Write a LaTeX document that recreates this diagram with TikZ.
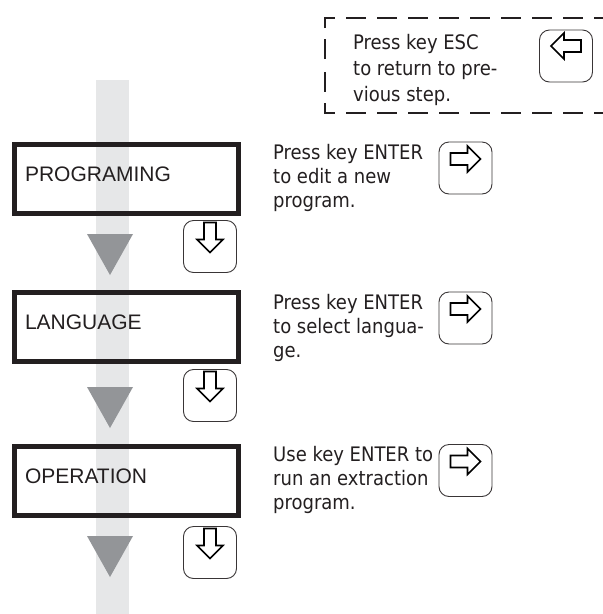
\documentclass[tikz,border=0pt]{standalone}
\usepackage{fontspec}
\setmainfont{Liberation Sans}
\newfontfamily\notefont{DejaVu Sans Condensed}
\definecolor{MenuInk}{HTML}{231F20}
\definecolor{MenuBand}{HTML}{E6E7E8}
\definecolor{MenuTri}{HTML}{939598}
\tikzset{menubox/.style={draw=MenuInk,line width=5pt,minimum width=224pt,minimum height=69pt,
text width=203pt,inner xsep=10.5pt,align=left,text height=15pt,text depth=10pt,
text=MenuInk,font=\fontsize{21}{25}\selectfont},
keybtn/.style={draw=MenuInk!90,line width=0.9pt,rounded corners=10pt,minimum width=53pt,
minimum height=52pt,inner sep=0pt},
note/.style={anchor=north west,inner sep=0pt,align=left,text=MenuInk,
font=\notefont\fontsize{20}{24}\selectfont},
dashframe/.style={draw=MenuInk,line width=2pt,dash pattern=on 20pt off 11pt,dash phase=24.5pt},
keyarrow/.pic={\draw[draw=black,line width=1.6pt,fill=white,line join=miter]
(-15,-6)--(2,-6)--(2,-13)--(15,0)--(2,13)--(2,6)--(-15,6)--cycle;}}
\begin{document}
\begin{tikzpicture}[x=1pt,y=-1pt]
\useasboundingbox (0,0) rectangle (603,614);
% band and the steps down it
\fill[MenuBand] (96,80) rectangle (129,614);
\node[menubox](prog) at (126.5,179){PROGRAMING};
\node[menubox](lang) at (126.5,326.5){LANGUAGE};
\node[menubox](oper) at (126.5,481){OPERATION};
\foreach \ty in {275,428,577}
  \fill[MenuTri] (87,\ty-41)--(133,\ty-41)--(110,\ty)--cycle;
% down keys
\node[keybtn](progdown) at (210,246.5){};
\node[keybtn](langdown) at (210,395.5){};
\node[keybtn](operdown) at (210,552.5){};
\foreach \k in {progdown,langdown,operdown}
  \pic[rotate=-90] at ([yshift=9pt]\k.center) {keyarrow};
% notes and enter keys
\node[note](prognote) at (273,144){Press key ENTER\\to edit a new\\program.};
\node[note](langnote) at (273,294){Press key ENTER\\to select langua-\\ge.};
\node[note](opernote) at (273,446){Use key ENTER to\\run an extraction\\program.};
\node[keybtn](progenter) at (465.5,168){};
\node[keybtn](langenter) at (465.5,318){};
\node[keybtn](operenter) at (465.5,470.5){};
\foreach \k in {progenter,langenter,operenter}
  \pic at ([yshift=9pt]\k.center) {keyarrow};
% escape hint
\draw[dashframe] (325,65.5)|-(610,18);
\draw[dashframe] (325,65.5)|-(610,113);
\node[note,font=\notefont\fontsize{20}{26}\selectfont](escnote) at (353,34){Press key ESC\\to return to pre-\\vious step.};
\node[keybtn](esckey) at (566,56){};
\pic[rotate=180] at ([yshift=10pt]esckey.center) {keyarrow};
\end{tikzpicture}
\end{document}
